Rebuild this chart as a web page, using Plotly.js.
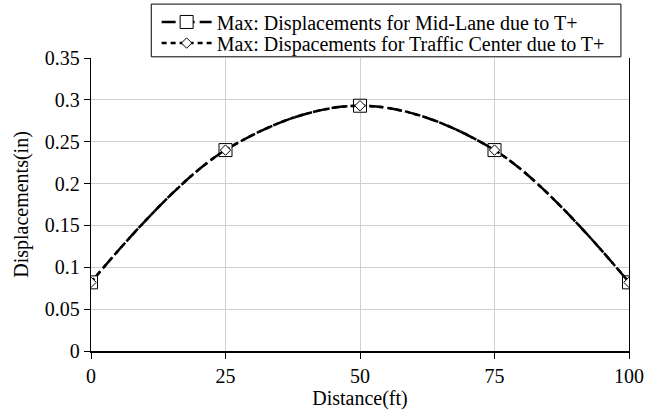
<!DOCTYPE html>
<html>
<head>
<meta charset="utf-8">
<script src="https://cdn.plot.ly/plotly-3.0.1.min.js"></script>
<style>html,body{margin:0;padding:0;background:#fff;}#chart{width:647px;height:411px;}</style>
</head>
<body>
<div id="chart"></div>
<script>
const distance = [0, 25, 50, 75, 100];
const midLane = [0.082, 0.240, 0.293, 0.240, 0.082];
const trafficCenter = [0.082, 0.240, 0.293, 0.240, 0.082];
const seriesNames = ["Max: Displacements for Mid-Lane due to T+", "Max: Dispacements for Traffic Center due to T+"];
const xTicks = [0, 25, 50, 75, 100];
const yTicks = [0, 0.05, 0.1, 0.15, 0.2, 0.25, 0.3, 0.35];

const font = "Liberation Serif";
const traces = [
  {
    x: distance, y: midLane, name: seriesNames[0], type: 'scatter', mode: 'lines+markers', legend: 'legend',
    line: {color: '#000', width: 2.5, dash: '14px,5px', shape: 'spline', smoothing: 1},
    marker: {symbol: 'square', size: 13, color: '#fff', line: {color: '#000', width: 1}}
  },
  {
    x: distance, y: trafficCenter, name: seriesNames[1], type: 'scatter', mode: 'lines+markers', legend: 'legend2',
    line: {color: '#000', width: 2.5, dash: '5px,4px', shape: 'spline', smoothing: 1},
    marker: {symbol: 'diamond', size: 8, color: '#fff', line: {color: '#000', width: 1}}
  }
];
const legendCommon = {
  xanchor: 'left', yanchor: 'middle', borderwidth: 0, bgcolor: 'rgba(0,0,0,0)',
  font: {family: font, size: 20, color: '#000'}, itemwidth: 50
};
const layout = {
  width: 647, height: 411,
  margin: {l: 91, r: 18, t: 58, b: 60, autoexpand: false},
  paper_bgcolor: '#fff', plot_bgcolor: '#fff',
  font: {family: font, size: 20, color: '#000'},
  showlegend: true,
  legend: Object.assign({x: 0.122, y: 1.123}, legendCommon),
  legend2: Object.assign({x: 0.122, y: 1.051}, legendCommon),
  shapes: [{
    type: 'rect', xref: 'paper', yref: 'paper', x0: 0.112, x1: 0.985, y0: 1.004, y1: 1.184,
    line: {color: '#000', width: 1}, fillcolor: '#fff', layer: 'above'
  }],
  xaxis: {
    range: [0, 100], tickvals: xTicks, ticktext: xTicks.map(String),
    showgrid: true, gridcolor: '#d0d0d0', gridwidth: 1,
    showline: true, linecolor: '#000', linewidth: 1.5, mirror: false,
    ticks: 'outside', ticklen: 6, tickcolor: '#000', zeroline: false,
    tickfont: {family: font, size: 20},
    title: {text: 'Distance(ft)', font: {family: font, size: 20}, standoff: 0}
  },
  yaxis: {
    range: [0, 0.35], tickvals: yTicks, ticktext: yTicks.map(v => String(v)),
    showgrid: true, gridcolor: '#d0d0d0', gridwidth: 1,
    showline: true, linecolor: '#000', linewidth: 1.2, mirror: true,
    ticks: 'outside', ticklen: 6, tickcolor: '#000', zeroline: false,
    tickfont: {family: font, size: 20},
    title: {text: 'Displacements(in)', font: {family: font, size: 20}, standoff: 10}
  }
};
Plotly.newPlot('chart', traces, layout, {displayModeBar: false, staticPlot: true});
</script>
</body>
</html>
